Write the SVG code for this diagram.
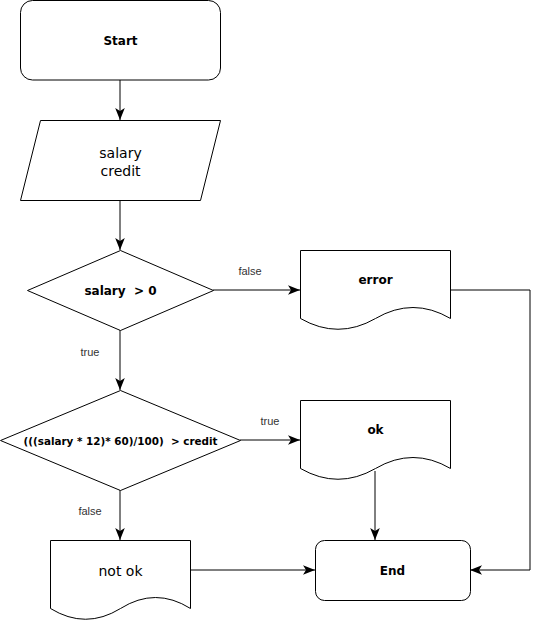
<svg xmlns="http://www.w3.org/2000/svg" width="539" height="621" viewBox="0 0 539 621">
<defs>
<style>
.shape{fill:#fff;stroke:#000;stroke-width:1}
.edge{fill:none;stroke:#000;stroke-width:1}
.t{font-family:"Comic Sans MS","DejaVu Sans",sans-serif;fill:#000;text-anchor:middle;dominant-baseline:central;white-space:pre}
.b{font-weight:bold;font-size:12px}
.r{font-size:14px}
.lbl{font-family:"Liberation Sans",Helvetica,Arial,sans-serif;font-size:11px;fill:#333;text-anchor:middle;dominant-baseline:central}
</style>
<marker id="arr" markerUnits="userSpaceOnUse" markerWidth="12" markerHeight="12" viewBox="0 0 10 8" refX="10" refY="4" orient="auto">
<path d="M0,0 L10,4 L0,8 L2.5,4 Z" fill="#000"/>
</marker>
</defs>
<g id="edges">
<path class="edge" d="M120,80 L120,120" marker-end="url(#arr)"/>
<path class="edge" d="M120,200 L120,250" marker-end="url(#arr)"/>
<path class="edge" d="M213,290 L300,290" marker-end="url(#arr)"/>
<path class="edge" d="M450,290 L530,290 L530,570 L470,570" marker-end="url(#arr)"/>
<path class="edge" d="M120,330 L120,390" marker-end="url(#arr)"/>
<path class="edge" d="M240,440 L300,440" marker-end="url(#arr)"/>
<path class="edge" d="M375,471 L375,540" marker-end="url(#arr)"/>
<path class="edge" d="M120,490 L120,540" marker-end="url(#arr)"/>
<path class="edge" d="M190,570 L315,570" marker-end="url(#arr)"/>
<text class="lbl" x="250" y="271">false</text>
<text class="lbl" x="90" y="352">true</text>
<text class="lbl" x="270" y="421">true</text>
<text class="lbl" x="90" y="511">false</text>
</g>
<g id="start">
<rect class="shape" x="20.5" y="0.5" width="200" height="79.5" rx="12"/>
<text class="t b" x="120.5" y="41">Start</text>
</g>
<g id="input">
<path class="shape" d="M40.5,120.5 L220.5,120.5 L200.5,200.5 L20.5,200.5 Z"/>
<text class="t r" x="120.5" y="153">salary</text>
<text class="t r" x="120.5" y="171">credit</text>
</g>
<g id="cond1">
<path class="shape" d="M120.5,250.5 L213.5,290.5 L120.5,330.5 L27.5,290.5 Z"/>
<text class="t b" x="120.5" y="291" xml:space="preserve">salary  &gt; 0</text>
</g>
<g id="error">
<path class="shape" d="M300.5,250.5 L450.5,250.5 L450.5,318.5 Q413,296.5 375.5,318.5 Q338,340 300.5,318.5 Z"/>
<text class="t b" x="375.5" y="280">error</text>
</g>
<g id="cond2">
<path class="shape" d="M120.5,390.5 L240.5,440.5 L120.5,490.5 L0.5,440.5 Z"/>
<text class="t b" x="120.5" y="441" style="font-size:11px" textLength="194" lengthAdjust="spacingAndGlyphs" xml:space="preserve">(((salary * 12)* 60)/100)  &gt; credit</text>
</g>
<g id="ok">
<path class="shape" d="M300.5,400.5 L450.5,400.5 L450.5,468.5 Q413,446.5 375.5,468.5 Q338,490 300.5,468.5 Z"/>
<text class="t b" x="375.5" y="430">ok</text>
</g>
<g id="notok">
<path class="shape" d="M50.5,540.5 L190.5,540.5 L190.5,608.5 Q155.5,586.5 120.5,608.5 Q85.5,630 50.5,608.5 Z"/>
<text class="t r" x="120.5" y="571">not ok</text>
</g>
<g id="end">
<rect class="shape" x="315.5" y="540.5" width="155" height="60" rx="9"/>
<text class="t b" x="392.5" y="571">End</text>
</g>
</svg>
